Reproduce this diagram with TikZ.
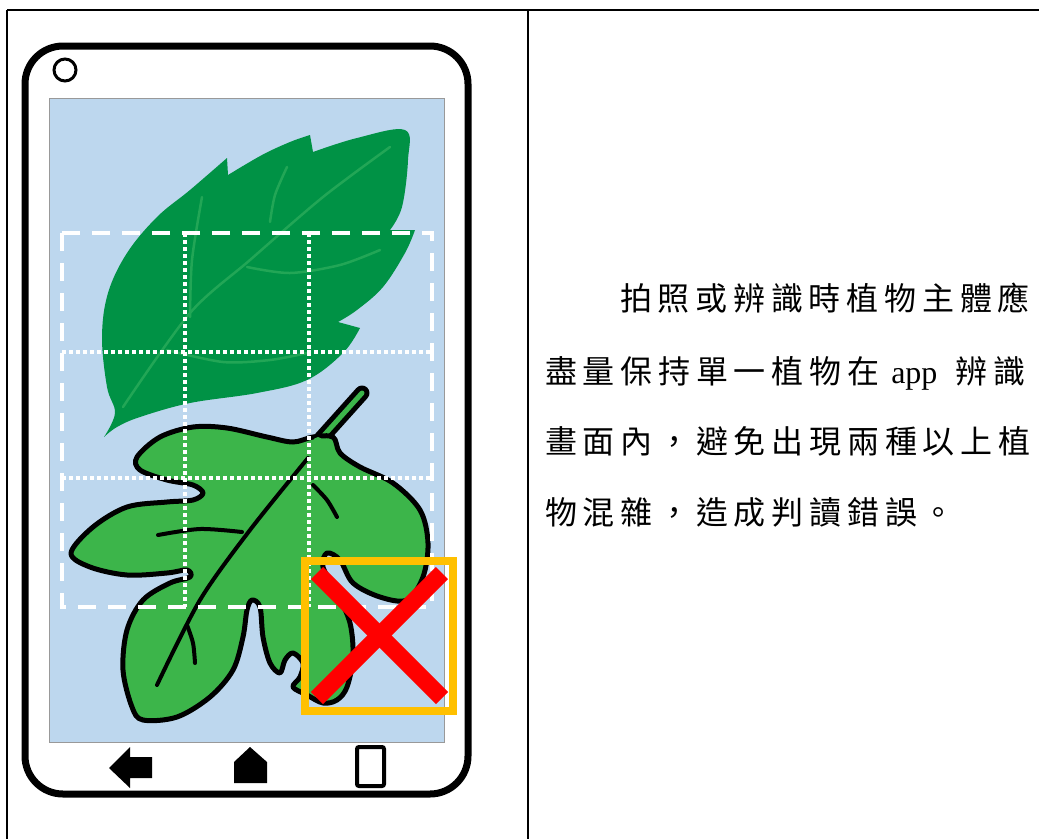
\documentclass[tikz,border=0pt]{standalone}
\usepackage{fontspec}
\setmainfont{Liberation Serif}
\newfontfamily\cjk{Noto Sans CJK TC}[LetterSpace=18]
\usepackage{tikz}
\usetikzlibrary{positioning}

\definecolor{screenblue}{HTML}{BDD7EE}
\definecolor{leafdark}{HTML}{009245}
\definecolor{leafvein}{HTML}{22A656}
\definecolor{leaflight}{HTML}{3CB54A}
\definecolor{markorange}{HTML}{FFC000}

\begin{document}
\begin{tikzpicture}[x=1pt, y=-1pt,
        gridout/.style={white, line width=4pt, dash pattern=on 18pt off 12pt},
        griddot/.style={white, line width=3.5pt, dash pattern=on 3.5pt off 3.5pt},
        vein/.style={leafvein, line width=2.5pt, line cap=round},
        rib/.style={black, line width=4pt, line cap=round},
        every node/.style={inner sep=0pt, font=\fontsize{32}{32}\selectfont}]
        \useasboundingbox (0,0) rectangle (1039,839);

        % table frame
        \draw[line width=2.5pt] (7,10) -- (1039,10);
        \draw[line width=2.5pt] (7,10) -- (7,839);
        \draw[line width=2.5pt] (528,10) -- (528,839);

        % phone body
        \draw[line width=7pt, rounded corners=38pt] (25,46) rectangle (468,794);
        \draw[line width=3pt] (65,70) circle (11);
        \filldraw[fill=screenblue, draw=gray!80, line width=1pt] (49,98) rectangle (444,742);

        % upper leaf
        \fill[leafdark] (104,437)
            -- plot[smooth, tension=.6] coordinates {(104,437) (115,413) (107,387) (102,337) (108,293) (127,253) (157,217) (190,190) (227,158)}
            -- (228,175)
            -- plot[smooth, tension=.6] coordinates {(228,175) (262,155) (290,142) (310,135)}
            -- (313,152)
            -- plot[smooth, tension=.6] coordinates {(313,152) (357,138) (405,130) (408,160) (402,207) (390,230)}
            -- (415,230)
            -- plot[smooth, tension=.6] coordinates {(415,230) (405,253) (383,287) (357,310) (338,322)}
            -- (360,328)
            -- plot[smooth, tension=.6] coordinates {(360,328) (343,353) (307,380) (257,393) (190,403) (140,417) (117,427) (104,437)}
            -- cycle;
        \draw[vein] plot[smooth] coordinates {(123,407) (190,313) (250,260) (323,197) (390,147)};
        \draw[vein] plot[smooth] coordinates {(247,267) (290,273) (340,265) (380,250)};
        \draw[vein] plot[smooth] coordinates {(270,222) (275,195) (287,167)};
        \draw[vein] plot[smooth] coordinates {(190,317) (192,260) (202,197)};
        \draw[vein] plot[smooth] coordinates {(167,350) (223,362) (270,360) (307,353)};

        % lower leaf
        \draw[line width=15pt, line cap=round] (362,393) -- (318,442);
        \draw[leaflight, line width=5pt, line cap=round] (362,393) -- (318,442);
        \filldraw[fill=leaflight, draw=black, line width=5pt, line join=round]
            plot[smooth cycle, tension=.55] coordinates {
                (313,437) (293,442) (267,437) (227,428) (193,427) (160,437) (137,457)
                (140,470) (167,480) (193,485) (203,493) (193,500) (167,502) (127,507)
                (93,527) (71,553) (90,567) (127,575) (167,573) (187,570) (190,577)
                (170,583) (143,600) (127,630) (123,670) (132,707) (143,720) (177,717)
                (210,697) (233,670) (243,637) (247,610) (252,600) (260,607) (263,637)
                (270,663) (280,673) (285,660) (293,653) (303,663) (300,677) (293,687)
                (307,695) (323,703) (337,700) (347,687) (353,657) (350,623) (337,593)
                (323,567) (327,553) (340,560) (353,583) (380,597) (407,600) (423,577)
                (428,543) (420,510) (393,483) (360,467) (340,453) (333,437)};
        \fill[leaflight] (318,442) circle (5);
        \draw[rib] plot[smooth] coordinates {(308,458) (250,530) (200,600) (157,685)};
        \draw[rib] plot[smooth] coordinates {(158,535) (200,529) (242,532)};
        \draw[rib] plot[smooth] coordinates {(313,485) (327,500) (337,517)};
        \draw[rib] plot[smooth] coordinates {(187,625) (193,643) (195,663)};

        % framing grid
        \draw[griddot] (185,233) -- (185,607);
        \draw[griddot] (309,233) -- (309,607);
        \draw[griddot] (62,352) -- (432,352);
        \draw[griddot] (62,478) -- (432,478);
        \draw[gridout] (62,233) rectangle (432,607);

        % wrong-area mark
        \draw[markorange, line width=8pt] (305,561) rectangle (453,711);
        \draw[red, line width=17pt] (317,573) -- (442,698);
        \draw[red, line width=17pt] (442,573) -- (317,698);

        % navigation keys
        \fill (109,768) -- (130,747) -- (130,757) -- (152,757) -- (152,778) -- (130,778) -- (130,788) -- cycle;
        \fill (234,783) -- (234,762) -- (250,747) -- (267,762) -- (267,783) -- cycle;
        \draw[line width=4pt, rounded corners=2pt] (357,747) rectangle (384,786);

        % note text
        \node (t1) [anchor=base west] at (620,310) {\cjk 拍照或辨識時植物主體應};
        \node (t2) [anchor=base west] at (545,383) {{\cjk 盡量保持單一植物在}\hspace{12pt}app\hspace{18pt}{\cjk 辨識}};
        \node (t3) [anchor=base west] at (545,453) {\cjk 畫面內，避免出現兩種以上植};
        \node (t4) [anchor=base west] at (545,524) {\cjk 物混雜，造成判讀錯誤。};
    \end{tikzpicture}
\end{document}
